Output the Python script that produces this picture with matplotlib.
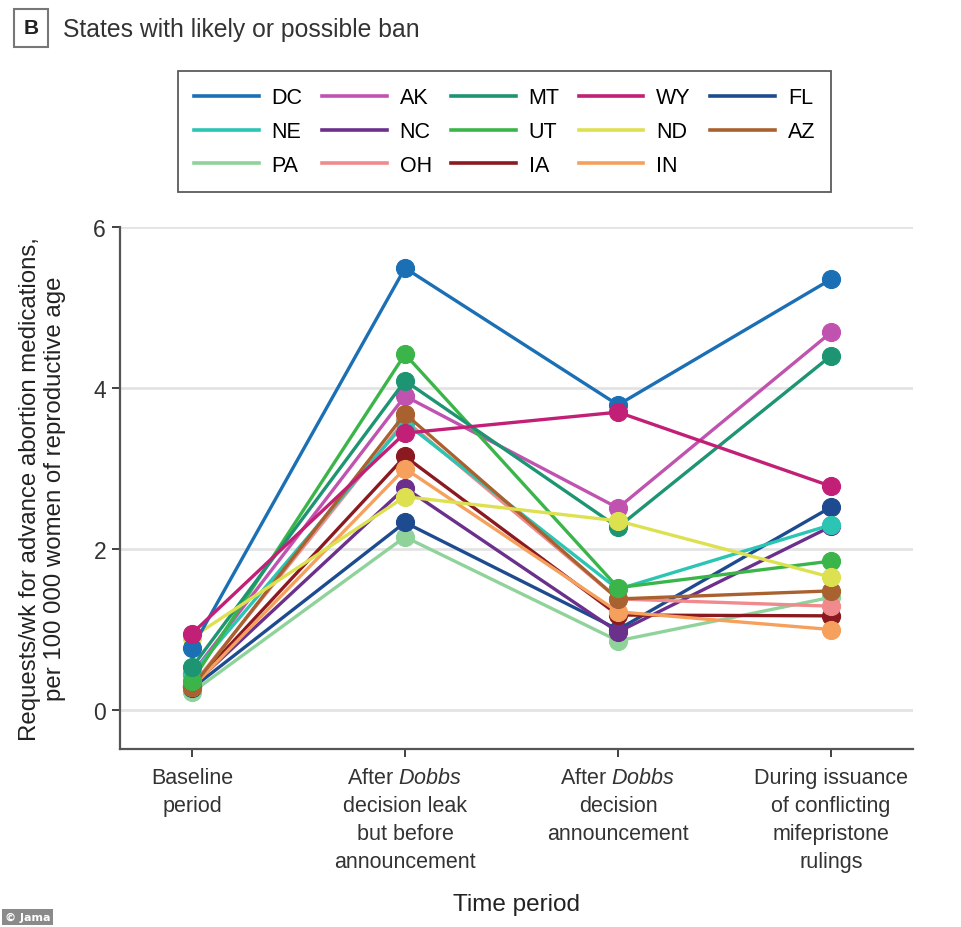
import matplotlib
matplotlib.use("Agg")
import matplotlib.pyplot as plt
from matplotlib.lines import Line2D

plt.rcParams['font.family'] = ['Liberation Sans', 'DejaVu Sans']
plt.rcParams['mathtext.fontset'] = 'custom'
plt.rcParams['mathtext.rm'] = 'Liberation Sans'
plt.rcParams['mathtext.it'] = 'Liberation Sans:italic'

# data
periods = ["Baseline\nperiod",
           "After $\\mathit{Dobbs}$\ndecision leak\nbut before\nannouncement",
           "After $\\mathit{Dobbs}$\ndecision\nannouncement",
           "During issuance\nof conflicting\nmifepristone\nrulings"]
states = ["DC", "AK", "MT", "WY", "FL", "NE", "NC", "UT", "ND", "AZ", "PA", "OH", "IA", "IN"]
colors = ["#1a6fb5", "#c153b0", "#1d9472", "#c21f77", "#1e4b8f", "#2bc5b4", "#6b2f8c",
          "#3bb54a", "#dde150", "#a9612f", "#8fd39b", "#f08a8c", "#8a1a1f", "#f5a05c"]
DC = [0.77, 5.49, 3.79, 5.35]
AK = [0.45, 3.90, 2.51, 4.69]
MT = [0.53, 4.09, 2.27, 4.40]
WY = [0.95, 3.44, 3.70, 2.78]
FL = [0.27, 2.33, 1.00, 2.52]
NE = [0.45, 3.57, 1.50, 2.30]
NC = [0.30, 2.76, 0.97, 2.28]
UT = [0.36, 4.42, 1.52, 1.85]
ND = [0.90, 2.65, 2.35, 1.65]
AZ = [0.28, 3.68, 1.38, 1.48]
PA = [0.22, 2.15, 0.86, 1.40]
OH = [0.30, 3.60, 1.38, 1.29]
IA = [0.30, 3.15, 1.18, 1.17]
IN = [0.28, 3.00, 1.22, 1.00]
values = [DC, AK, MT, WY, FL, NE, NC, UT, ND, AZ, PA, OH, IA, IN]

fig = plt.figure(figsize=(9.62, 9.28), dpi=100)
ax = fig.add_axes([120/962, 1-750/928, (913-120)/962, (750-228)/928])

x = range(len(periods))
draw_order = [1, 10, 4, 6, 12, 13, 11, 5, 9, 7, 2, 8, 0, 3]
for i in draw_order:
    ax.plot(x, values[i], color=colors[i], lw=2.4, marker="o", ms=13,
            markeredgewidth=0.8, markeredgecolor=colors[i], zorder=3)

ax.set_xlim(-0.338, 3.385)
ax.set_ylim(-0.484, 6.0)
ax.set_yticks([0, 2, 4, 6])
ax.set_xticks(list(x))
ax.set_xticklabels(periods, fontsize=15.5, color="#222222")
for t in ax.get_xticklabels():
    t.set_linespacing(1.43)
ax.tick_params(axis="y", labelsize=16.5, length=6, width=1.3, colors="#333333", pad=4)
ax.tick_params(axis="x", length=6, width=1.3, colors="#333333", pad=7)
ax.grid(axis="y", color="#e3e3e3", lw=2)
ax.set_axisbelow(True)

for s in ["top", "right"]:
    ax.spines[s].set_visible(False)
for s in ["left", "bottom"]:
    ax.spines[s].set_color("#555555")
    ax.spines[s].set_linewidth(1.6)

ax.set_ylabel("Requests/wk for advance abortion medications,\nper 100 000 women of reproductive age",
              fontsize=17.3, color="#222222", labelpad=20, linespacing=1.15)
ax.set_xlabel("Time period", fontsize=17.5, color="#222222", labelpad=15)

# legend filled column-wise -> reorder so it reads row-wise
handles = [Line2D([], [], color=c, lw=2.6) for c in colors]
order = [0, 5, 10, 1, 6, 11, 2, 7, 12, 3, 8, 13, 4, 9]
leg = fig.legend([handles[i] for i in order], [states[i] for i in order],
                 ncol=5, loc="upper left", bbox_to_anchor=(178/962, 1-72/928),
                 borderaxespad=0, fontsize=15.5, handlelength=3.0, handletextpad=0.6,
                 columnspacing=0.9, labelspacing=0.6, borderpad=0.75,
                 frameon=True, fancybox=False, edgecolor="#333333")
leg.get_frame().set_linewidth(1.3)

fig.text(31/962, 1-29/928, "B", fontsize=15, fontweight="bold", ha="center", va="center",
         color="#222222",
         bbox=dict(boxstyle="square,pad=0.45", fc="white", ec="#777777", lw=1.5))
fig.text(63/962, 1-30/928, "States with likely or possible ban", fontsize=17.8,
         ha="left", va="center", color="#333333")

fig.text(5/962, 1-918/928, "© Jama", fontsize=8, fontweight="bold", color="white",
         ha="left", va="center", family=["DejaVu Sans"],
         bbox=dict(boxstyle="square,pad=0.25", fc="#8a8a8a", ec="none"))

fig.savefig("out.png", dpi=100)
